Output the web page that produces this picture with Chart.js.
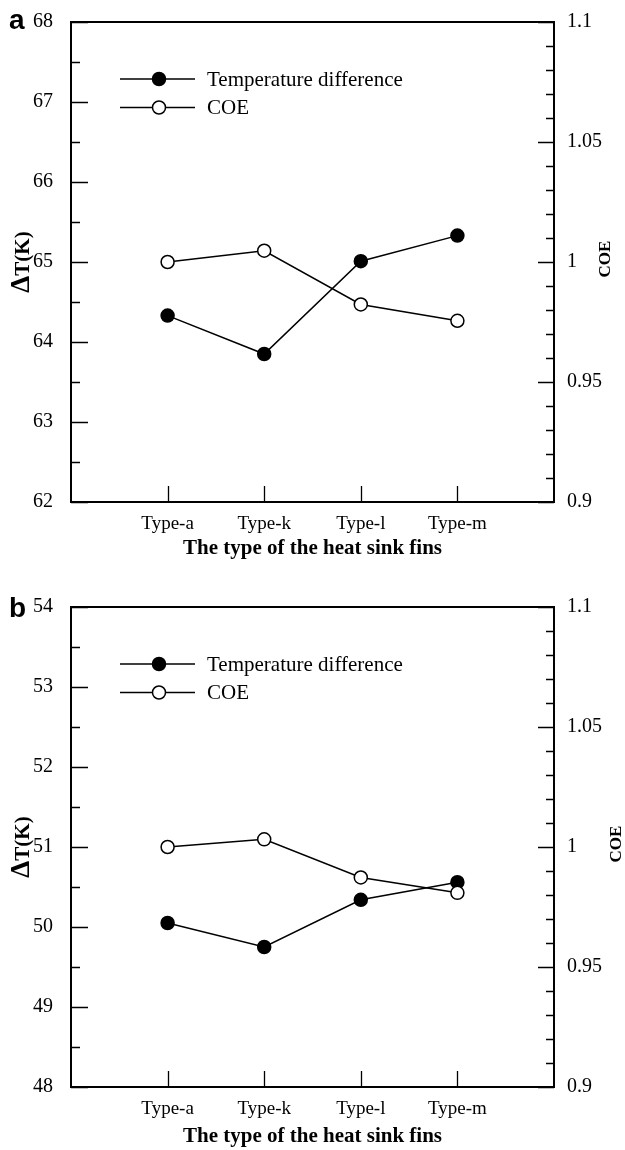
<!DOCTYPE html>
<html>
<head>
<meta charset="utf-8">
<script src="https://cdn.jsdelivr.net/npm/chart.js@4.4.1/dist/chart.umd.min.js"></script>
<style>
  html, body { margin: 0; padding: 0; background: #fff; }
  .panel { position: absolute; left: 0; width: 625px; }
  #wrapA { top: 0; }
  #wrapB { top: 585px; }
</style>
</head>
<body>
<div class="panel" id="wrapA"><canvas id="chartA" width="625" height="580"></canvas></div>
<div class="panel" id="wrapB"><canvas id="chartB" width="625" height="565"></canvas></div>
<script>
// categories
const finTypes = ['Type-a', 'Type-k', 'Type-l', 'Type-m'];
// panel a
const tempA = [64.33, 63.85, 65.01, 65.33];
const coeA = [1.000, 1.0047, 0.9823, 0.9755];
// panel b
const tempB = [50.05, 49.75, 50.34, 50.56];
const coeB = [1.000, 1.0032, 0.9873, 0.9809];
const legendLabels = ['Temperature difference', 'COE'];

const serif = "'Liberation Serif', 'Times New Roman', serif";

// list of tick values from min to max
function tickRange(min, max, step) {
  const out = [];
  const n = Math.round((max - min) / step);
  for (let i = 0; i <= n; i++) out.push(Math.round((min + i * step) * 1000) / 1000);
  return out;
}

// frame, inward ticks, legend and extra texts
const decorPlugin = {
  id: 'decor',
  beforeDatasetsDraw(chart, args, opts) {
    const ctx = chart.ctx;
    const a = chart.chartArea;
    const yL = chart.scales.y, yR = chart.scales.yR, x = chart.scales.x;
    ctx.save();
    ctx.strokeStyle = '#000';
    ctx.lineWidth = 1.3;
    ctx.beginPath();
    yL.ticks.forEach(t => {
      const py = Math.round(yL.getPixelForValue(t.value)) + 0.5;
      const len = Number.isInteger(t.value) ? 17 : 9;
      ctx.moveTo(a.left, py); ctx.lineTo(a.left + len, py);
    });
    yR.ticks.forEach(t => {
      const py = Math.round(yR.getPixelForValue(t.value)) + 0.5;
      const major = Math.abs(t.value * 20 - Math.round(t.value * 20)) < 1e-6;
      const len = major ? 16 : 8;
      ctx.moveTo(a.right, py); ctx.lineTo(a.right - len, py);
    });
    x.ticks.forEach(t => {
      const px = Math.round(x.getPixelForValue(t.value)) + 0.5;
      ctx.moveTo(px, a.bottom); ctx.lineTo(px, a.bottom - 16);
    });
    ctx.stroke();
    ctx.lineWidth = 2;
    ctx.strokeRect(a.left, a.top, a.right - a.left, a.bottom - a.top);
    ctx.restore();
  },
  afterDraw(chart, args, opts) {
    const ctx = chart.ctx;
    const a = chart.chartArea;
    const midY = (a.top + a.bottom) / 2;
    ctx.save();
    // legend
    legendLabels.forEach((lab, i) => {
      const y = a.top + 57 + i * 28.5;
      ctx.strokeStyle = '#000';
      ctx.lineWidth = 1.5;
      ctx.beginPath();
      ctx.moveTo(a.left + 49, y); ctx.lineTo(a.left + 124, y);
      ctx.stroke();
      ctx.beginPath();
      ctx.arc(a.left + 88, y, 6.5, 0, Math.PI * 2);
      ctx.fillStyle = i === 0 ? '#000' : '#fff';
      ctx.fill();
      ctx.stroke();
      ctx.fillStyle = '#000';
      ctx.font = '21px ' + serif;
      ctx.textAlign = 'left';
      ctx.textBaseline = 'middle';
      ctx.fillText(lab, a.left + 136, y + 1);
    });
    // left axis title, bigger delta
    ctx.translate(29, midY);
    ctx.rotate(-Math.PI / 2);
    ctx.textBaseline = 'alphabetic';
    ctx.textAlign = 'left';
    const dFont = 'bold 27px ' + serif, tFont = 'bold 21px ' + serif;
    ctx.font = dFont;
    const dW = ctx.measureText('Δ').width;
    ctx.font = tFont;
    const tW = ctx.measureText('T(K)').width;
    const x0 = -(dW + tW) / 2;
    ctx.font = dFont;
    ctx.fillText('Δ', x0, 0);
    ctx.font = tFont;
    ctx.fillText('T(K)', x0 + dW, 0);
    ctx.setTransform(1, 0, 0, 1, 0, 0);
    // right axis title, reads bottom to top
    ctx.translate(opts.coeX, midY - 3);
    ctx.rotate(-Math.PI / 2);
    ctx.font = 'bold 17px ' + serif;
    ctx.textAlign = 'center';
    ctx.textBaseline = 'middle';
    ctx.fillText('COE', 0, 0);
    ctx.setTransform(1, 0, 0, 1, 0, 0);
    // panel letter
    ctx.font = 'bold 28px "Liberation Sans", Arial, sans-serif';
    ctx.textAlign = 'left';
    ctx.textBaseline = 'alphabetic';
    ctx.fillText(opts.letter, 9, opts.letterY);
    ctx.restore();
  }
};

function makeChart(id, temp, coe, tMin, tMax, cfg) {
  const H = document.getElementById(id).height;
  return new Chart(document.getElementById(id), {
    type: 'line',
    plugins: [decorPlugin],
    data: {
      datasets: [
        {
          label: legendLabels[0],
          data: temp.map((v, i) => ({ x: i + 1, y: v })),
          yAxisID: 'y',
          borderColor: '#000',
          borderWidth: 1.5,
          pointRadius: 6.5,
          pointBorderWidth: 1.5,
          pointBackgroundColor: '#000',
          pointBorderColor: '#000',
          order: 1
        },
        {
          label: legendLabels[1],
          data: coe.map((v, i) => ({ x: i + 1, y: v })),
          yAxisID: 'yR',
          borderColor: '#000',
          borderWidth: 1.5,
          pointRadius: 6.5,
          pointBorderWidth: 1.5,
          pointBackgroundColor: '#fff',
          pointBorderColor: '#000',
          order: 0
        }
      ]
    },
    options: {
      responsive: false,
      animation: false,
      layout: { padding: { top: 19, left: 0, right: 0, bottom: 0 } },
      plugins: {
        legend: { display: false },
        tooltip: { enabled: false },
        decor: { letter: cfg.letter, letterY: cfg.letterY, coeX: cfg.coeX }
      },
      scales: {
        x: {
          type: 'linear',
          min: 0,
          max: 5,
          grid: { display: false },
          border: { display: false },
          afterBuildTicks: s => { s.ticks = finTypes.map((_, i) => ({ value: i + 1 })); },
          afterFit: s => { s.height = H - 502; },
          ticks: {
            color: '#000',
            padding: 3,
            autoSkip: false,
            maxRotation: 0,
            font: { family: serif, size: 19 },
            callback: v => finTypes[v - 1]
          },
          title: {
            display: true,
            text: 'The type of the heat sink fins',
            color: '#000',
            font: { family: serif, size: 21, weight: 'bold' },
            padding: { top: 0, bottom: cfg.xTitlePad }
          }
        },
        y: {
          position: 'left',
          min: tMin,
          max: tMax,
          grid: { display: false },
          border: { display: false },
          afterBuildTicks: s => { s.ticks = tickRange(tMin, tMax, 0.5).map(v => ({ value: v })); },
          afterFit: s => { s.width = 71; },
          ticks: {
            color: '#000',
            padding: 10,
            autoSkip: false,
            font: { family: serif, size: 20 },
            callback: v => Number.isInteger(v) ? String(v) : ''
          }
        },
        yR: {
          position: 'right',
          min: 0.9,
          max: 1.1,
          grid: { display: false },
          border: { display: false },
          afterBuildTicks: s => { s.ticks = tickRange(0.9, 1.1, 0.01).map(v => ({ value: v })); },
          afterFit: s => { s.width = 71; },
          ticks: {
            color: '#000',
            padding: 5,
            autoSkip: false,
            font: { family: serif, size: 20 },
            callback: v => Math.abs(v * 20 - Math.round(v * 20)) < 1e-6 ? String(Math.round(v * 100) / 100) : ''
          }
        }
      }
    }
  });
}

makeChart('chartA', tempA, coeA, 62, 68, { letter: 'a', letterY: 29, coeX: 606, xTitlePad: 19 });
makeChart('chartB', tempB, coeB, 48, 54, { letter: 'b', letterY: 32, coeX: 617, xTitlePad: 1 });
</script>
</body>
</html>
